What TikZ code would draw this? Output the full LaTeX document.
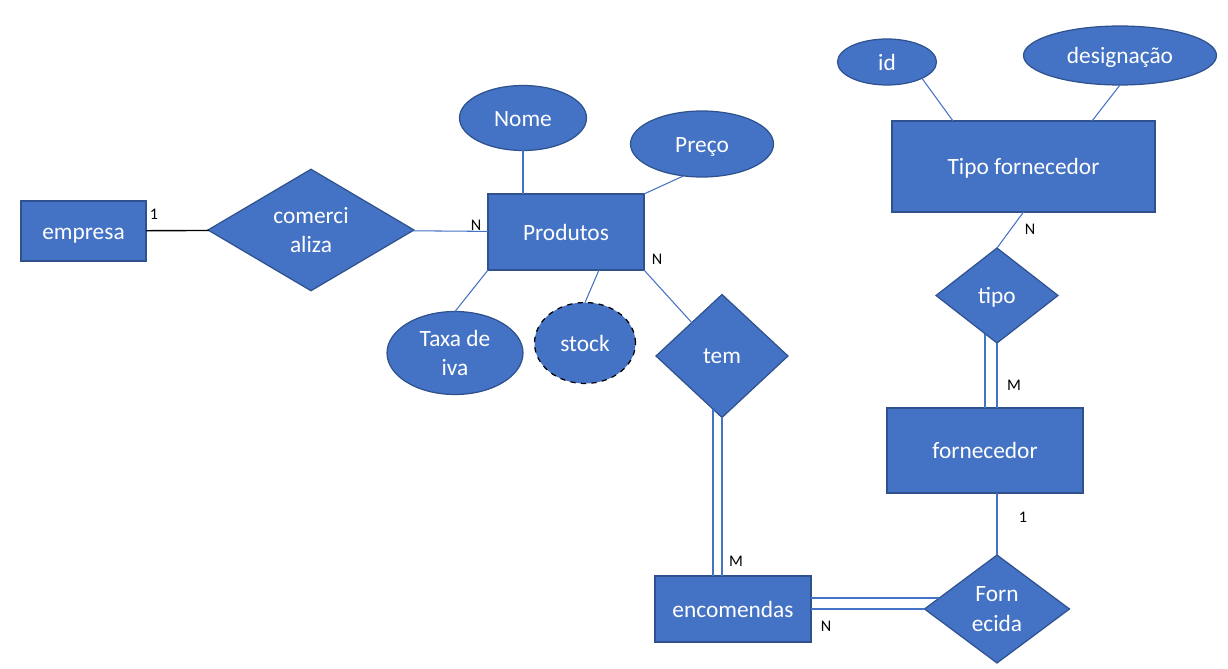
\documentclass[tikz,border=0pt]{standalone}
\usepackage{fontspec}
\setmainfont{Carlito}
\usepackage{tkz-graph}
\usetikzlibrary{shapes.geometric,calc}
\definecolor{erfill}{HTML}{4472C4}
\definecolor{erline}{HTML}{2F528F}

\begin{document}
\begin{tikzpicture}[x=0.02cm,y=-0.02cm,
  card/.style={font=\fontsize{9.2}{10}\selectfont, text=black, inner sep=0pt}]
\useasboundingbox (0,0) rectangle (1228,669);
% entidades
\tikzset{VertexStyle/.style = {shape = rectangle, fill = erfill, draw = erline, line width = 0.7pt, text = white, font = \fontsize{13.3}{17}\selectfont, align = center, inner sep = 0pt, text height = 9.3pt, text depth = 0pt}}
   \Vertex[x=83.5 ,y=231,L=empresa,style={minimum width=2.5cm,minimum height=1.2cm}]{Emp}
   \Vertex[x=566 ,y=232,L=Produtos,style={minimum width=3.12cm,minimum height=1.52cm}]{Prod}
   \Vertex[x=733 ,y=609,L=encomendas,style={minimum width=3.12cm,minimum height=1.32cm}]{Enc}
   \Vertex[x=985 ,y=450.5,L=fornecedor,style={minimum width=3.92cm,minimum height=1.7cm}]{Forn}
   \Vertex[x=1023.5 ,y=166.5,L=Tipo fornecedor,style={minimum width=5.26cm,minimum height=1.82cm}]{TipoF}

% relacoes
\tikzset{VertexStyle/.style = {shape = diamond, fill = erfill, draw = erline, line width = 0.7pt, text = white, font = \fontsize{13.3}{17}\selectfont, align = center, inner sep = 0pt}}
   \Vertex[x=311 ,y=230,L={comerci\\aliza},style={minimum width=4.12cm,minimum height=2.36cm}]{Com}
   \Vertex[x=722 ,y=356,L=tem,style={minimum width=2.64cm,minimum height=2.46cm}]{Tem}
   \Vertex[x=997 ,y=609,L={Forn\\ecida},style={minimum width=2.9cm,minimum height=2.16cm}]{Fnc}
   \Vertex[x=997 ,y=295.5,L=tipo,style={minimum width=2.44cm,minimum height=1.9cm,text height=9.3pt,text depth=0pt}]{Tipo}

% atributos
\tikzset{VertexStyle/.style = {shape = ellipse, fill = erfill, draw = erline, line width = 0.7pt, text = white, font = \fontsize{13.3}{17}\selectfont, align = center, inner sep = 0pt}}
   \Vertex[x=455 ,y=353,L={Taxa de\\iva},style={minimum width=2.72cm,minimum height=1.66cm}]{Taxa}
\tikzset{VertexStyle/.append style = {text height = 9.3pt, text depth = 0pt}}
   \Vertex[x=523 ,y=118,L=Nome,style={minimum width=2.54cm,minimum height=1.3cm}]{Nome}
   \Vertex[x=702 ,y=144,L=Preço,style={minimum width=2.86cm,minimum height=1.32cm}]{Preco}
   \Vertex[x=887 ,y=62,L=id,style={minimum width=1.98cm,minimum height=0.92cm}]{Id}
   \Vertex[x=1120 ,y=55.5,L=designação,style={minimum width=3.86cm,minimum height=1.18cm}]{Desig}
\tikzset{VertexStyle/.style = {shape = ellipse, fill = erfill, draw = black, dashed, line width = 0.7pt, text = white, font = \fontsize{13.3}{17}\selectfont, align = center, inner sep = 0pt, text height = 9.3pt, text depth = 0pt}}
   \Vertex[x=585 ,y=343,L=stock,style={minimum width=2.02cm,minimum height=1.62cm}]{Stock}

\tikzset{EdgeStyle/.style = {draw = black, line width = 0.8pt}}
   \Edge(Emp)(Com)
\tikzset{EdgeStyle/.style = {draw = erfill, line width = 0.6pt}}
   \Edge(Com)(Prod)
   \draw[EdgeStyle] (Nome.south) -- (Nome.south |- Prod.north);
   \draw[EdgeStyle] (Preco.240) -- (Prod.north east);
   \draw[EdgeStyle] (Taxa.north) -- (Prod.south west);
   \draw[EdgeStyle] (Stock.north) -- ($(Prod.south)+(33,0)$);
   \draw[EdgeStyle] (Prod.south east) -- (Tem);
   \draw[EdgeStyle] (Tem.south) -- (Tem.south |- Enc.north);
   \draw[EdgeStyle] ($(Tem.south)+(-9,-8.4)$) -- ($(Tem.south |- Enc.north)+(-9,0)$);
   \draw[EdgeStyle] (Enc.east) -- (Fnc.west);
   \draw[EdgeStyle] ($(Enc.east)+(0,-11)$) -- ($(Fnc.west)+(14.8,-11)$);
   \draw[EdgeStyle] (Fnc.north) -- (Fnc.north |- Forn.south);
   \draw[EdgeStyle] (Tipo.south) -- (Tipo.south |- Forn.north);
   \draw[EdgeStyle] ($(Tipo.south)+(-12,-9.3)$) -- ($(Tipo.south |- Forn.north)+(-12,0)$);
   \draw[EdgeStyle] (TipoF.south) -- (Tipo.north);
   \draw[EdgeStyle] (Id.335) -- ($(TipoF.north west)+(61,0)$);
   \draw[EdgeStyle] (Desig.south) -- ($(TipoF.north east)+(-63,0)$);

% cardinalidades
   \node[card] (cEmp) at (154,214) {1};
   \node[card] (cProdC) at (476,225) {N};
   \node[card] (cProdT) at (657,259) {N};
   \node[card] (cEnc) at (736,561) {M};
   \node[card] (cEncF) at (826,626) {N};
   \node[card] (cForn) at (1023,517) {1};
   \node[card] (cFornT) at (1014,385) {M};
   \node[card] (cTipoF) at (1030,229) {N};
\end{tikzpicture}
\end{document}
